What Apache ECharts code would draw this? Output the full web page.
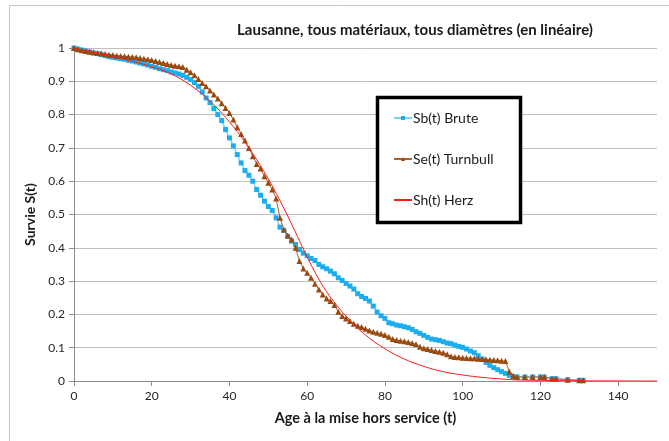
<!DOCTYPE html>
<html>
<head>
<meta charset="utf-8">
<script src="https://cdn.jsdelivr.net/npm/echarts@6/dist/echarts.min.js"></script>
<style>
  html, body { margin: 0; padding: 0; background: #fff; }
  #chart { width: 669px; height: 441px; }
</style>
</head>
<body>
<div id="chart"></div>
<script>
// ages (années) et survie brute / Turnbull
const ages = [];
for (let a = 0; a <= 113; a++) ages.push(a);
const tailAges = [114, 116, 118, 120, 121, 123, 124, 127, 130, 131];

const brute = [
  1.000, 0.997, 0.994, 0.991, 0.988, 0.985, 0.983, 0.980, 0.977, 0.974,
  0.972, 0.970, 0.968, 0.966, 0.963, 0.961, 0.958, 0.955, 0.952, 0.949,
  0.945, 0.942, 0.938, 0.935, 0.932, 0.928, 0.925, 0.922, 0.918, 0.912,
  0.905, 0.896, 0.885, 0.868, 0.850, 0.836, 0.818, 0.800, 0.782, 0.755,
  0.730, 0.706, 0.680, 0.655, 0.632, 0.618, 0.600, 0.575, 0.558, 0.540,
  0.524, 0.512, 0.490, 0.462, 0.452, 0.434, 0.420, 0.410, 0.395, 0.384,
  0.376, 0.368, 0.362, 0.350, 0.343, 0.337, 0.330, 0.322, 0.310, 0.302,
  0.293, 0.285, 0.276, 0.262, 0.254, 0.248, 0.240, 0.225, 0.207, 0.196,
  0.188, 0.175, 0.172, 0.168, 0.166, 0.163, 0.160, 0.155, 0.148, 0.143,
  0.137, 0.131, 0.126, 0.124, 0.122, 0.118, 0.114, 0.112, 0.108, 0.104,
  0.101, 0.096, 0.090, 0.085, 0.076, 0.066, 0.056, 0.047, 0.040, 0.034,
  0.028, 0.023, 0.017, 0.013
];
const turnbull = [
  1.000, 0.996, 0.993, 0.991, 0.989, 0.987, 0.985, 0.984, 0.982, 0.980,
  0.979, 0.977, 0.976, 0.975, 0.974, 0.973, 0.972, 0.970, 0.968, 0.966,
  0.964, 0.961, 0.958, 0.955, 0.952, 0.949, 0.947, 0.945, 0.943, 0.935,
  0.927, 0.918, 0.907, 0.895, 0.885, 0.872, 0.860, 0.848, 0.834, 0.820,
  0.805, 0.785, 0.762, 0.742, 0.722, 0.700, 0.675, 0.652, 0.638, 0.615,
  0.595, 0.575, 0.548, 0.490, 0.455, 0.437, 0.425, 0.400, 0.360, 0.338,
  0.325, 0.310, 0.292, 0.275, 0.260, 0.248, 0.240, 0.228, 0.208, 0.195,
  0.188, 0.180, 0.172, 0.166, 0.162, 0.157, 0.152, 0.148, 0.145, 0.142,
  0.138, 0.133, 0.126, 0.123, 0.121, 0.119, 0.117, 0.114, 0.110, 0.103,
  0.098, 0.096, 0.093, 0.090, 0.088, 0.085, 0.080, 0.074, 0.072, 0.071,
  0.070, 0.069, 0.068, 0.068, 0.067, 0.066, 0.065, 0.064, 0.063, 0.062,
  0.061, 0.060, 0.028, 0.016
];
const tailValues = [0.012, 0.012, 0.012, 0.012, 0.012, 0.007, 0.007, 0.004, 0.002, 0.002];

// modèle de Herz
const herzAges = [0, 5, 10, 15, 20, 25, 30, 35, 40, 45, 50, 52.5, 55, 57.5, 60, 62.5, 65, 67.5, 70, 75, 80, 85, 90, 95, 100, 105, 110, 115, 120, 130, 140, 150];
const herz = [1.000, 0.988, 0.975, 0.960, 0.944, 0.922, 0.888, 0.840, 0.778, 0.700, 0.607, 0.553, 0.495, 0.434, 0.372, 0.316, 0.268, 0.229, 0.195, 0.138, 0.097, 0.066, 0.044, 0.028, 0.018, 0.011, 0.006, 0.003, 0.002, 0.0005, 0.0001, 0];

const seriesNames = ['Sb(t) Brute', 'Se(t) Turnbull', 'Sh(t) Herz'];

function pairs(xs, ys) {
  return xs.map((x, i) => [x, ys[i]]);
}

const bruteData = pairs(ages, brute).concat(pairs(tailAges, tailValues));
const turnbullData = pairs(ages, turnbull).concat(pairs(tailAges, tailValues));
const herzData = pairs(herzAges, herz);

const font = 'Lato, "Noto Sans", sans-serif';

const chart = echarts.init(document.getElementById('chart'));

const option = {
  animation: false,
  textStyle: { fontFamily: font },
  title: {
    text: 'Lausanne, tous matériaux, tous diamètres (en linéaire)',
    left: 410,
    top: 18,
    textAlign: 'center',
    textStyle: { fontSize: 15, fontWeight: 'bold', color: '#1a1a1a', fontFamily: font }
  },
  graphic: [
    {
      // cadre du graphique
      type: 'rect',
      shape: { x: 9.5, y: 5.5, width: 700, height: 500 },
      style: { fill: 'none', stroke: '#c4c4c4', lineWidth: 1 },
      silent: true,
      z: -1
    },
    {
      // cadre de la légende
      type: 'rect',
      shape: { x: 377.5, y: 97.5, width: 143, height: 125 },
      style: { fill: '#fff', stroke: '#000', lineWidth: 3.5 },
      silent: true,
      z: 5
    }
  ],
  legend: {
    orient: 'vertical',
    left: 393,
    top: 110,
    padding: 0,
    itemGap: 25,
    itemWidth: 18,
    itemHeight: 5,
    z: 10,
    textStyle: { fontSize: 14, lineHeight: 16, color: '#1a1a1a', fontFamily: font, padding: [0, 0, 0, -4] },
    data: [
      { name: seriesNames[0] },
      { name: seriesNames[1] },
      { name: seriesNames[2], itemStyle: { color: 'rgba(0,0,0,0)', borderColor: 'rgba(0,0,0,0)', borderWidth: 0 } }
    ]
  },
  grid: {
    left: 74,
    right: 12,
    top: 48,
    bottom: 60
  },
  xAxis: {
    type: 'value',
    min: 0,
    max: 150,
    interval: 20,
    name: 'Age à la mise hors service (t)',
    nameLocation: 'middle',
    nameGap: 30,
    nameTextStyle: { fontSize: 14.5, fontWeight: 'bold', color: '#1a1a1a' },
    axisLine: { lineStyle: { color: '#8c8c8c' } },
    axisTick: { show: true, length: 5, lineStyle: { color: '#8c8c8c' } },
    axisLabel: { fontSize: 12, color: '#262626', margin: 9, showMaxLabel: false },
    splitLine: { show: false }
  },
  yAxis: {
    type: 'value',
    min: 0,
    max: 1,
    interval: 0.1,
    name: 'Survie S(t)',
    nameLocation: 'middle',
    nameGap: 37,
    nameTextStyle: { fontSize: 14, fontWeight: 'bold', color: '#1a1a1a' },
    axisLine: { show: true, lineStyle: { color: '#8c8c8c' } },
    axisTick: { show: true, length: 5, lineStyle: { color: '#8c8c8c' } },
    axisLabel: { fontSize: 12, color: '#262626', margin: 9 },
    splitLine: { lineStyle: { color: '#bfbfbf', width: 1 } }
  },
  series: [
    {
      name: seriesNames[0],
      type: 'line',
      data: bruteData,
      symbol: 'rect',
      symbolSize: 5,
      color: '#1cadee',
      lineStyle: { width: 1.5, color: '#7fd0f5' },
      itemStyle: { color: '#1cadee' },
      z: 2
    },
    {
      name: seriesNames[1],
      type: 'line',
      data: turnbullData,
      symbol: 'triangle',
      symbolSize: 6,
      color: '#9a4a0e',
      lineStyle: { width: 1, color: '#a8622c' },
      itemStyle: { color: '#9a4a0e' },
      z: 3
    },
    {
      name: seriesNames[2],
      type: 'line',
      data: herzData,
      smooth: 0.4,
      showSymbol: false,
      symbol: 'none',
      color: '#ff1a1a',
      lineStyle: { width: 1, color: '#ff1a1a' },
      z: 4
    }
  ]
};

chart.setOption(option);
</script>
</body>
</html>
